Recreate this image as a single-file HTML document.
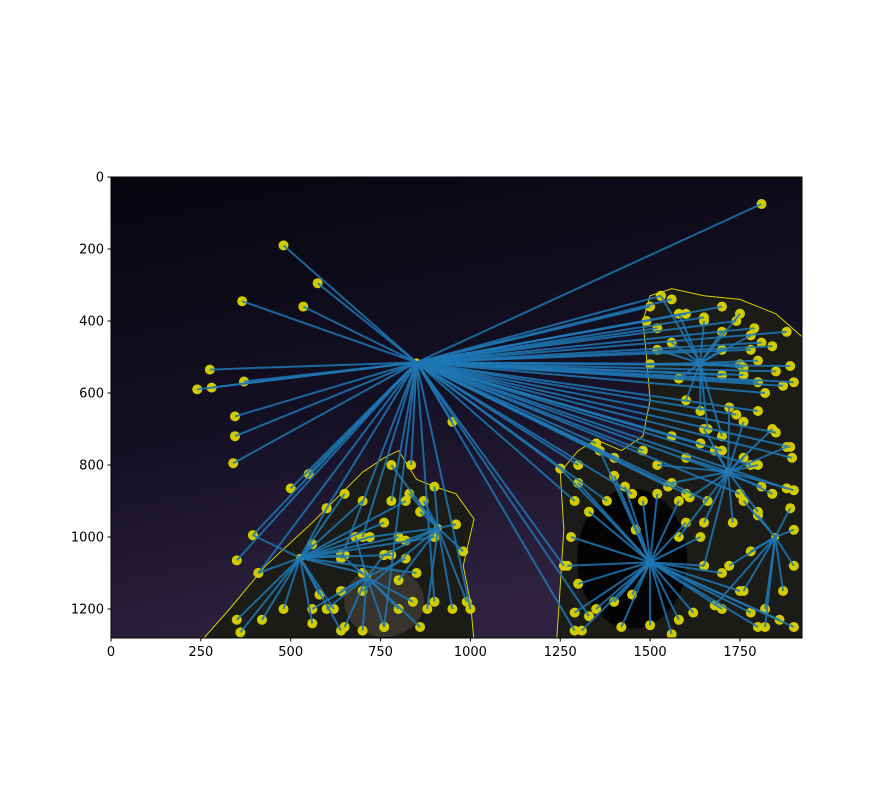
<!DOCTYPE html>
<html><head><meta charset="utf-8"><style>
body{margin:0;background:#fff;}
svg{display:block;font-family:"DejaVu Sans","Liberation Sans",sans-serif;}
</style></head><body>
<svg id="chart" width="891" height="807" viewBox="0 0 891 807">
<defs>
<linearGradient id="sky" x1="0" y1="0" x2="0.3" y2="1">
<stop offset="0" stop-color="#07060d"/><stop offset="0.55" stop-color="#141024"/><stop offset="1" stop-color="#2e2240"/>
</linearGradient>
<clipPath id="clip"><rect x="111" y="177" width="691" height="461"/></clipPath>
</defs>
<g id="plot" clip-path="url(#clip)"></g>
<rect x="111" y="177" width="691" height="461" fill="none" stroke="#000" stroke-width="1"/>
<g id="axes"></g>
</svg>
<script>
const xTicks=[0,250,500,750,1000,1250,1500,1750];
const yTicks=[0,200,400,600,800,1000,1200];
const hubs=[[850,515],[1500,1070],[1717,819],[1639,517],[1848,1000],[526,1058],[910,975],[712,1111]];
const t0=[[1810,75],[480,190],[575,295],[535,360],[365,345],[275,535],[240,590],[280,585],[370,568],[345,665],[345,720],[340,795],[950,680],[500,865],[550,825],[395,995],[350,1065],[410,1100],[835,800],[1530,330],[1560,340],[1500,360],[1490,400],[1520,420],[1600,380],[1650,390],[1700,360],[1740,400],[1790,420],[1880,430],[1840,470],[1810,460],[1780,480],[1890,525],[1850,540],[1900,570],[1870,580],[1800,570],[1760,550],[1750,520],[1700,550],[1820,600],[1800,650],[1740,660],[1850,710],[1890,750],[1895,780],[1880,865],[1780,800],[1700,760],[1640,740],[1560,720],[1480,760],[1400,780],[1350,740],[1300,800],[1250,810],[1290,900],[1380,900],[1450,880],[1550,860],[1600,880],[1660,900],[1750,880],[1810,860],[1290,1260],[1330,1220],[1260,1080],[1000,1200],[900,1180],[760,1250],[700,1000],[640,1060],[600,920],[780,900]];
const t1=[[1250,810],[1300,850],[1330,930],[1280,1000],[1270,1080],[1300,1130],[1290,1210],[1310,1260],[1350,1200],[1400,1180],[1420,1250],[1450,1160],[1500,1245],[1560,1270],[1580,1230],[1620,1210],[1700,1200],[1780,1210],[1860,1230],[1900,1250],[1800,1250],[1650,1080],[1640,1000],[1600,960],[1580,900],[1520,880],[1480,900],[1430,860],[1400,830],[1360,760],[1460,980],[1700,1100],[1750,1150]];
const t2=[[1650,700],[1720,640],[1760,680],[1840,700],[1880,750],[1900,870],[1840,880],[1800,930],[1730,960],[1650,960],[1610,890],[1560,850],[1520,800],[1600,780],[1680,760],[1760,780],[1800,800],[1650,1080],[1580,1000]];
const t3=[[1530,330],[1580,380],[1650,400],[1700,430],[1750,380],[1780,440],[1700,480],[1760,530],[1800,510],[1580,560],[1600,620],[1640,650],[1660,700],[1700,720],[1560,460],[1520,480],[1500,520]];
const t4=[[1760,900],[1800,940],[1890,920],[1900,1080],[1870,1150],[1820,1200],[1760,1150],[1720,1080],[1780,1040],[1900,980],[1680,1190],[1820,1250]];
const t5=[[395,995],[410,1100],[350,1230],[360,1265],[420,1230],[480,1200],[560,1020],[600,920],[650,880],[700,900],[760,960],[820,900],[800,1000],[720,1000],[650,1050],[580,1160],[620,1200],[560,1240],[700,1100],[780,1050],[900,1000],[850,1100],[640,1260]];
const t6=[[830,880],[860,930],[960,965],[980,1040],[990,1180],[950,1200],[880,1200],[800,1120],[760,1050],[720,1000],[700,1150],[820,1010],[870,900],[900,860],[780,800]];
const t7=[[640,1050],[600,1200],[650,1250],[700,1260],[760,1250],[800,1200],[840,1180],[760,1050],[680,1000],[820,1060],[560,1200],[640,1150],[860,1250]];
const targets=[t0,t1,t2,t3,t4,t5,t6,t7];
const leftTree=[[250,1290],[330,1200],[430,1080],[560,960],[640,880],[700,820],[760,780],[800,760],[850,840],[900,860],[960,880],[1010,950],[980,1080],[1000,1180],[1010,1290]];
const rightTree=[[1240,1290],[1260,980],[1250,820],[1300,760],[1350,730],[1420,760],[1480,720],[1500,620],[1490,500],[1480,400],[1500,330],[1560,310],[1650,330],[1750,340],[1850,380],[1930,450],[1930,1290]];

const X=v=>111+v*0.3594, Y=v=>177+v*0.36;
const NS='http://www.w3.org/2000/svg';
function mk(tag,attrs,parent){const e=document.createElementNS(NS,tag);for(const k in attrs)e.setAttribute(k,attrs[k]);parent.appendChild(e);return e;}
const plot=document.getElementById('plot'),axes=document.getElementById('axes');
let bg=mk('rect',{x:111,y:177,width:691,height:461,fill:'url(#sky)'},plot);


[[leftTree,'left-tree'],[rightTree,'right-tree']].forEach(([poly,name])=>{
 const pts=poly.map(p=>X(p[0])+','+Y(p[1])).join(' ');
 let f=mk('polygon',{points:pts,fill:'#1b1c17'},plot);
 
 
 let c=mk('polygon',{points:pts,fill:'none',stroke:'#d8d000','stroke-width':1},plot);
 
 
});
let hole=mk('ellipse',{cx:X(1450),cy:Y(1060),rx:55,ry:70,fill:'#040404'},plot);


let glow=mk('ellipse',{cx:X(760),cy:Y(1180),rx:40,ry:35,fill:'#4a443c',opacity:0.6},plot);


targets.forEach(list=>list.forEach(p=>{
 let d=mk('circle',{cx:X(p[0]),cy:Y(p[1]),r:5,fill:'#d2cb00'},plot);
 
 
}));
hubs.forEach(h=>{
 let d=mk('circle',{cx:X(h[0]),cy:Y(h[1]),r:4,fill:'#d2cb00'},plot);
 
 
});
targets.forEach((list,i)=>{const h=hubs[i];list.forEach(p=>{
 let l=mk('line',{x1:X(h[0]),y1:Y(h[1]),x2:X(p[0]),y2:Y(p[1]),stroke:'#1f77b4','stroke-width':2,'stroke-opacity':0.85},plot);
 
 
});});
xTicks.forEach(t=>{
 const x=X(t);
 let k=mk('line',{x1:x,y1:638,x2:x,y2:641.5,stroke:'#000'},axes);
 
 
 let s=mk('text',{x:x,y:656,'text-anchor':'middle','font-size':13,fill:'#000'},axes);
 s.textContent=t;
 
 
});
yTicks.forEach(t=>{
 const y=Y(t);
 let k=mk('line',{x1:107.5,y1:y,x2:111,y2:y,stroke:'#000'},axes);
 
 
 let s=mk('text',{x:104,y:y+4.5,'text-anchor':'end','font-size':13,fill:'#000'},axes);
 s.textContent=t;
 
 
});
</script>
</body></html>
